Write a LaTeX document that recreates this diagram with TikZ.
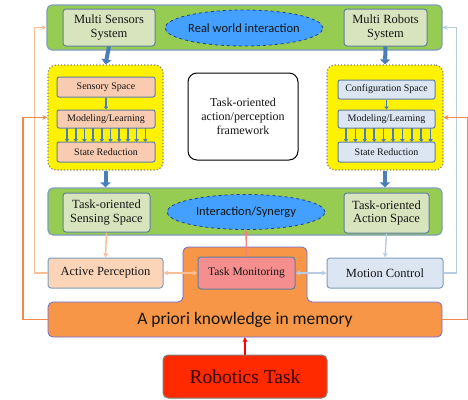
\documentclass[tikz,border=0pt]{standalone}
\usepackage{fontspec}
\setmainfont{Liberation Serif}
\newfontfamily\tnr{Liberation Serif}
\newfontfamily\calib{Carlito}
\usetikzlibrary{arrows.meta,shapes.geometric}
\definecolor{bandgreen}{HTML}{96CC52}
\definecolor{bandedge}{HTML}{7F9DB9}
\definecolor{lightgreen}{HTML}{D8E4BD}
\definecolor{boxedge}{HTML}{5F7F9F}
\definecolor{ellblue}{HTML}{44A0FF}
\definecolor{elledge}{HTML}{1F3F9F}
\definecolor{peach}{HTML}{F9CBB0}
\definecolor{paleblue}{HTML}{DCE6F2}
\definecolor{apfill}{HTML}{FCD5B8}
\definecolor{orangefill}{HTML}{F79646}
\definecolor{orangeedge}{HTML}{6A6ADD}
\definecolor{tmfill}{HTML}{F58E8E}
\definecolor{redfill}{HTML}{FF2A00}
\definecolor{bigarrow}{HTML}{4A7EBB}
\definecolor{lorange}{HTML}{F8BE96}
\definecolor{lblue}{HTML}{B8CCE4}
\definecolor{dorange}{HTML}{F28A4A}
\definecolor{pinkarrow}{HTML}{F4837D}
\definecolor{txt}{HTML}{141414}
\tikzset{
  band/.style={draw=bandedge, line width=1.2pt, fill=bandgreen, rounded corners=5pt, inner sep=0pt},
  gbox/.style={draw=boxedge, line width=1pt, fill=lightgreen, rounded corners=3pt, inner sep=0pt, align=center, text=txt, font=\tnr\fontsize{12.5}{13.5}\selectfont},
  ell/.style={ellipse, draw=elledge, dashed, line width=0.8pt, fill=ellblue, inner sep=0pt, text=txt, font=\calib\fontsize{12.5}{14}\selectfont},
  yel/.style={draw=gray, dotted, line width=1.2pt, fill=yellow, rounded corners=8pt, inner sep=0pt},
  ibox/.style={draw=boxedge, line width=1pt, rounded corners=2pt, inner sep=0pt, text=txt, font=\tnr\fontsize{10}{11}\selectfont},
  lbox/.style={draw=bandedge, line width=1pt, rounded corners=3pt, inner sep=0pt, text=txt, font=\tnr\fontsize{12.5}{13.5}\selectfont},
  fat/.style={draw=bigarrow, line width=4pt, -{Triangle[width=10pt,length=5pt]}},
  thinblue/.style={draw=bigarrow, line width=1.6pt, -{Triangle[width=4.5pt,length=3pt]}},
  conn/.style={line width=1.4pt, -{Stealth[length=5pt,width=5pt]}},
  dconn/.style={line width=1.4pt, {Stealth[length=5pt,width=5pt]}-{Stealth[length=5pt,width=5pt]}},
}
\begin{document}
\begin{tikzpicture}[x=1pt,y=-1pt]
\useasboundingbox (0,0) rectangle (468,399);
% top band
\node[band, minimum width=395pt, minimum height=45pt] (topband) at (244.5,27.5) {};
\node[gbox, minimum width=92pt, minimum height=37pt] (mss) at (109,27.5) {Multi Sensors\\System};
\node[ell, minimum width=150pt, minimum height=36pt] (rwi) at (244,28) {Real world interaction};
\node[gbox, minimum width=83pt, minimum height=37pt] (mrs) at (385.5,27.5) {Multi Robots\\System};
% yellow boxes
\node[yel, minimum width=115pt, minimum height=105pt] (lyel) at (105.5,117.5) {};
\node[ibox, fill=peach, minimum width=98pt, minimum height=20pt] (ss) at (106,87) {Sensory Space};
\node[ibox, fill=peach, minimum width=98pt, minimum height=18pt] (lml) at (106,119) {Modeling/Learning};
\node[ibox, fill=peach, minimum width=98pt, minimum height=20pt] (lsr) at (106,152) {State Reduction};
\node[yel, minimum width=116pt, minimum height=105pt] (ryel) at (385,117.5) {};
\node[ibox, fill=paleblue, minimum width=97pt, minimum height=19pt] (cs) at (386.5,89.5) {Configuration Space};
\node[ibox, fill=paleblue, minimum width=97pt, minimum height=18pt] (rml) at (386.5,119) {Modeling/Learning};
\node[ibox, fill=paleblue, minimum width=97pt, minimum height=20pt] (rsr) at (386.5,152) {State Reduction};
% center box
\node[draw=black, line width=1pt, fill=white, rounded corners=9pt, minimum width=110pt, minimum height=87pt, align=center, text=txt, font=\tnr\fontsize{12}{14}\selectfont] (fw) at (243,116.5) {Task-oriented\\action/perception\\framework};
% bottom band
\node[band, minimum width=394pt, minimum height=47pt] (botband) at (245,211.5) {};
\node[gbox, minimum width=87pt, minimum height=39pt] (toss) at (106.5,212.5) {Task-oriented\\Sensing Space};
\node[ell, minimum width=158pt, minimum height=35pt] (syn) at (246,212) {Interaction/Synergy};
\node[gbox, minimum width=85pt, minimum height=40pt] (toas) at (386.5,213) {Task-oriented\\Action Space};
% lower boxes
\node[lbox, fill=apfill, minimum width=115pt, minimum height=30pt] (ap) at (105.5,273) {Active Perception};
\node[lbox, fill=paleblue, minimum width=116pt, minimum height=30pt] (mc) at (385,273) {Motion Control};
% orange memory shape
\draw[draw=orangeedge, line width=0.8pt, fill=orangefill, rounded corners=5pt]
  (183,302) -- (183,247) -- (307,247) -- (307,302) -- (442,302) -- (442,337) -- (48,337) -- (48,302) -- cycle;
\node[minimum width=394pt, minimum height=35pt, inner sep=0pt, text=txt, font=\calib\fontsize{17.5}{20}\selectfont] (apk) at (245,319.5) {A priori knowledge in memory};
\node[draw=boxedge, line width=1pt, fill=tmfill, rounded corners=3pt, minimum width=97pt, minimum height=32pt, inner sep=0pt, text=txt, font=\tnr\fontsize{11.5}{13}\selectfont] (tm) at (246.5,273) {Task Monitoring};
\node[draw=gray, line width=1pt, fill=redfill, rounded corners=5pt, minimum width=164pt, minimum height=43pt, inner sep=0pt, text=black!80!red, font=\tnr\fontsize{19.5}{22}\selectfont] (rt) at (245,376.5) {Robotics Task};
% big blue arrows
\draw[fat] (mss.south) -- (lyel.north);
\draw[fat] (lyel.south) -- (lyel.south |- botband.north);
\draw[fat] (mrs.south) -- (ryel.north);
\draw[fat] (ryel.south) -- (ryel.south |- botband.north);
\draw[thinblue] (ss.south) -- (lml.north);
\draw[thinblue] (cs.south) -- (rml.north);
\foreach \x in {67,75.7,84.4,93.1,101.8,110.5,119.2,127.9,136.6,145.3}
  \draw[thinblue] (\x,128) -- (\x,142);
\foreach \x in {346,355.4,364.8,374.2,383.6,393,402.4,411.8,421.2,430.6}
  \draw[thinblue] (\x,128) -- (\x,142);
% task arrows
\draw[conn, lorange] (toss.south) -- (ap.north);
\draw[conn, lblue] (toas.south) -- (mc.north);
\draw[dconn, lorange] (ap.east) -- (tm.west);
\draw[dconn, lblue] (tm.east) -- (mc.west);
\draw[conn, pinkarrow] (tm.north) -- (syn.south);
\draw[conn, red] (rt.north) -- (rt.north |- apk.south);
% feedback loops
\draw[conn, lorange] (ap.west) -- ++(-13,0) |- (topband.west);
\draw[conn, dorange] (apk.west) -- ++(-25,0) |- (lyel.west);
\draw[conn, lblue] (mc.east) -- ++(13,0) |- (topband.east);
\draw[conn, dorange] (apk.east) -- ++(25,0) |- (ryel.east);
\end{tikzpicture}
\end{document}
